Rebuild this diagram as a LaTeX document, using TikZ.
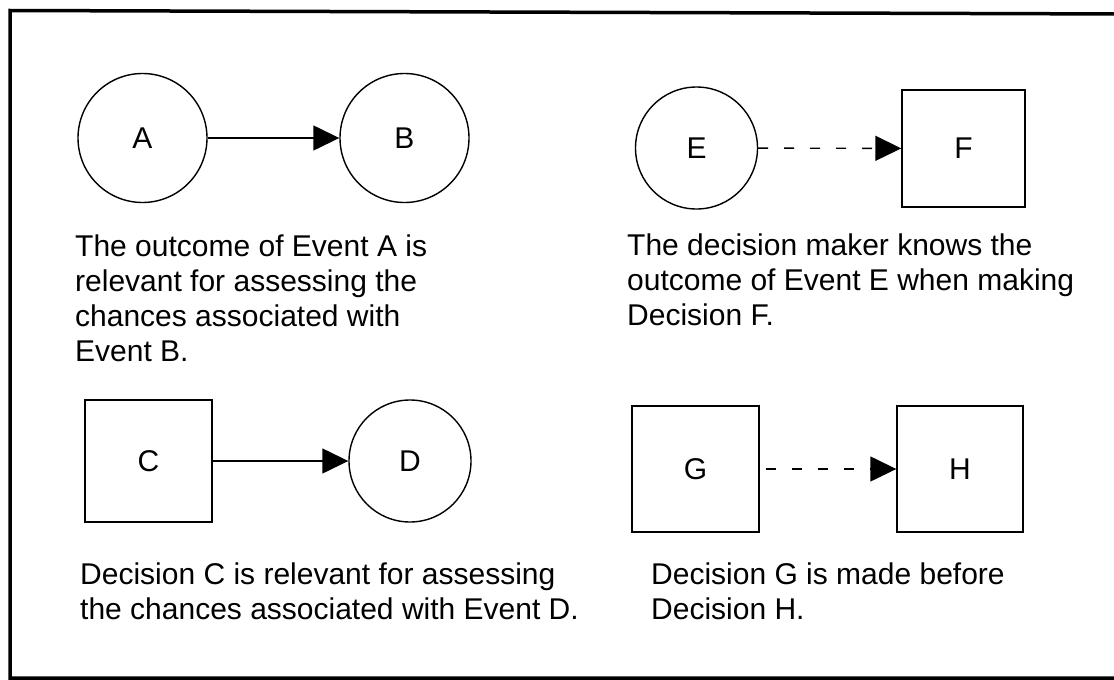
\documentclass[tikz,border=0pt]{standalone}
\usepackage{fontspec}
\setmainfont{Liberation Sans}
\usetikzlibrary{arrows.meta}

\tikzset{
  event/.style={draw, circle, line width=1.4pt, minimum size=#1, inner sep=0pt},
  decision/.style={draw, rectangle, line width=1.4pt, inner sep=0pt},
  lbl/.style={font=\fontsize{30}{35}\selectfont},
  caption/.style={anchor=north west, inner sep=0pt, align=left, font=\fontsize{30}{35}\selectfont},
  influence/.style={line width=1.4pt, -{Triangle[length=26pt,width=25pt]}},
  informs/.style={influence, dash pattern=on 10pt off 16pt},
  frameline/.style={line width=3.5pt}
}

\begin{document}
\begin{tikzpicture}[x=1pt,y=-1pt]
\useasboundingbox (0,0) rectangle (1114,680);

% outer frame (open on the right)
\coordinate (ftl) at (10,10.5);
\coordinate (ftr) at (1130,14);
\coordinate (fbl) at (10,678);
\coordinate (fbr) at (1130,678);
\draw[frameline] (ftr) -- (ftl) -- (fbl) -- (fbr);

% chance node to chance node
\node[event=129pt] (A) at (142.5,138) {};
\node[event=129pt] (B) at (404.5,138) {};
\node[lbl] (Alab) at (A) {A};
\node[lbl] (Blab) at (B) {B};
\draw[influence] (A) -- (B);
\node[caption] (capAB) at (75,235) {The outcome of Event A is\\relevant for assessing the\\chances associated with\\Event B.};

% chance node to decision node
\node[event=122pt] (E) at (696.5,148) {};
\node[decision, minimum width=123pt, minimum height=117pt] (F) at (963.5,148.5) {};
\node[lbl] (Elab) at (E) {E};
\node[lbl] (Flab) at (F) {F};
\draw[informs] (E) -- (F);
\node[caption] (capEF) at (627,234) {The decision maker knows the\\outcome of Event E when making\\Decision F.};

% decision node to chance node
\node[decision, minimum width=127pt, minimum height=122pt] (C) at (148.5,461) {};
\node[event=122pt] (D) at (410,461) {};
\node[lbl] (Clab) at (C) {C};
\node[lbl] (Dlab) at (D) {D};
\draw[influence] (C) -- (D);
\node[caption] (capCD) at (80,563) {Decision C is relevant for assessing\\the chances associated with Event D.};

% decision node to decision node
\node[decision, minimum width=127pt, minimum height=126pt] (G) at (695.5,469) {};
\node[decision, minimum width=126pt, minimum height=126pt] (H) at (960,469) {};
\node[lbl] (Glab) at (G) {G};
\node[lbl] (Hlab) at (H) {H};
\draw[informs, shorten <=6pt] (G) -- (H);
\node[caption] (capGH) at (651,563) {Decision G is made before\\Decision H.};
\end{tikzpicture}
\end{document}
